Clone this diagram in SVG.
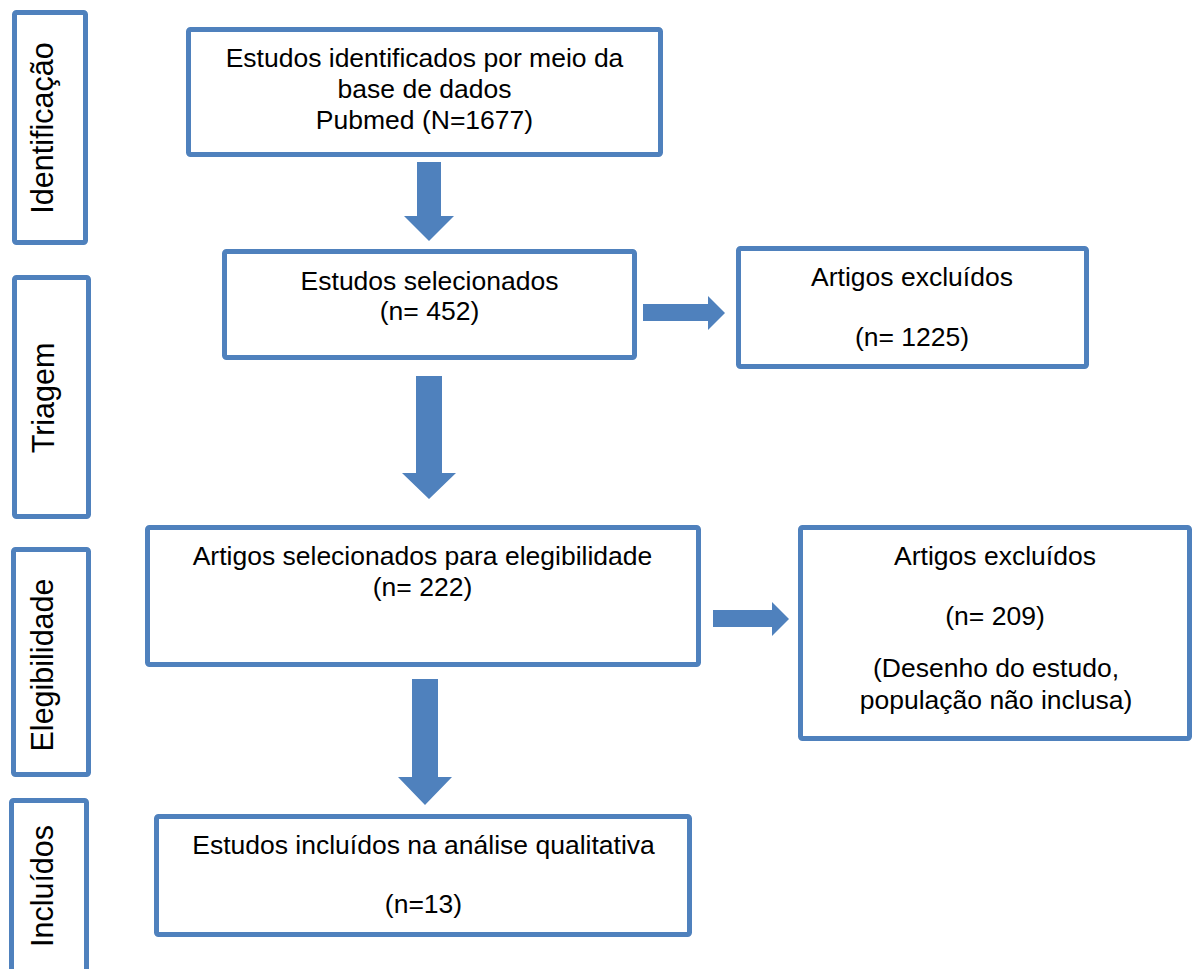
<svg xmlns="http://www.w3.org/2000/svg" width="1192" height="969" viewBox="0 0 1192 969">
<style>
.box{fill:#FFFFFF;stroke:#4F81BD;stroke-width:5;stroke-linejoin:round}
.arr{fill:#4F81BD;stroke:none}
.t{font-family:"Liberation Sans",Arial,sans-serif;font-size:26.5px;fill:#000000;text-anchor:middle}
.s{font-family:"Liberation Sans",Arial,sans-serif;font-size:30.5px;fill:#000000;text-anchor:middle}
</style>
<rect x="0" y="0" width="1192" height="969" fill="#FFFFFF"/>
<g id="stage-identificacao">
<rect class="box" x="14.5" y="12.5" width="71" height="230" rx="2"/>
<text class="s" transform="translate(53,128) rotate(-90)">Identificação</text>
</g>
<g id="stage-triagem">
<rect class="box" x="14.5" y="277.5" width="74" height="239" rx="2"/>
<text class="s" transform="translate(54,398) rotate(-90)">Triagem</text>
</g>
<g id="stage-elegibilidade">
<rect class="box" x="13.5" y="549.5" width="75" height="225" rx="2"/>
<text class="s" transform="translate(53,665) rotate(-90)">Elegibilidade</text>
</g>
<g id="stage-incluidos">
<rect class="box" x="11.5" y="800.5" width="75" height="200" rx="2"/>
<text class="s" transform="translate(53,886) rotate(-90)">Incluídos</text>
</g>
<g id="node-identificados">
<rect class="box" x="188.5" y="29.5" width="472" height="125" rx="2"/>
<text class="t" x="424.5" y="67">Estudos identificados por meio da</text>
<text class="t" x="424.5" y="98">base de dados</text>
<text class="t" x="424.5" y="129">Pubmed (N=1677)</text>
</g>
<g id="node-selecionados">
<rect class="box" x="224.5" y="251.5" width="410" height="106" rx="2"/>
<text class="t" x="429.5" y="290">Estudos selecionados</text>
<text class="t" x="429.5" y="320">(n= 452)</text>
</g>
<g id="node-excluidos1">
<rect class="box" x="738.5" y="248.5" width="348" height="118" rx="2"/>
<text class="t" x="912" y="286">Artigos excluídos</text>
<text class="t" x="912" y="346">(n= 1225)</text>
</g>
<g id="node-elegibilidade">
<rect class="box" x="147.5" y="527.5" width="551" height="137" rx="2"/>
<text class="t" x="422.5" y="565">Artigos selecionados para elegibilidade</text>
<text class="t" x="422.5" y="596">(n= 222)</text>
</g>
<g id="node-excluidos2">
<rect class="box" x="800.5" y="527.5" width="389" height="211" rx="2"/>
<text class="t" x="995" y="565">Artigos excluídos</text>
<text class="t" x="995" y="625">(n= 209)</text>
<text class="t" x="996" y="677">(Desenho do estudo,</text>
<text class="t" x="996" y="709">população não inclusa)</text>
</g>
<g id="node-incluidos">
<rect class="box" x="156.5" y="816.5" width="533" height="118" rx="2"/>
<text class="t" x="423.5" y="854">Estudos incluídos na análise qualitativa</text>
<text class="t" x="423.5" y="913">(n=13)</text>
</g>
<g id="connectors">
<polygon class="arr" points="417,162 441,162 441,216 454,216 429,241 404,216 417,216"/>
<polygon class="arr" points="643,304 708,304 708,296 725,313 708,330 708,321 643,321"/>
<polygon class="arr" points="416,376 442,376 442,473 456,473 429,499 402,473 416,473"/>
<polygon class="arr" points="713,610 772,610 772,602 789,619 772,636 772,627 713,627"/>
<polygon class="arr" points="412,679 438,679 438,777 452,777 425,805 398,777 412,777"/>
</g>
</svg>
